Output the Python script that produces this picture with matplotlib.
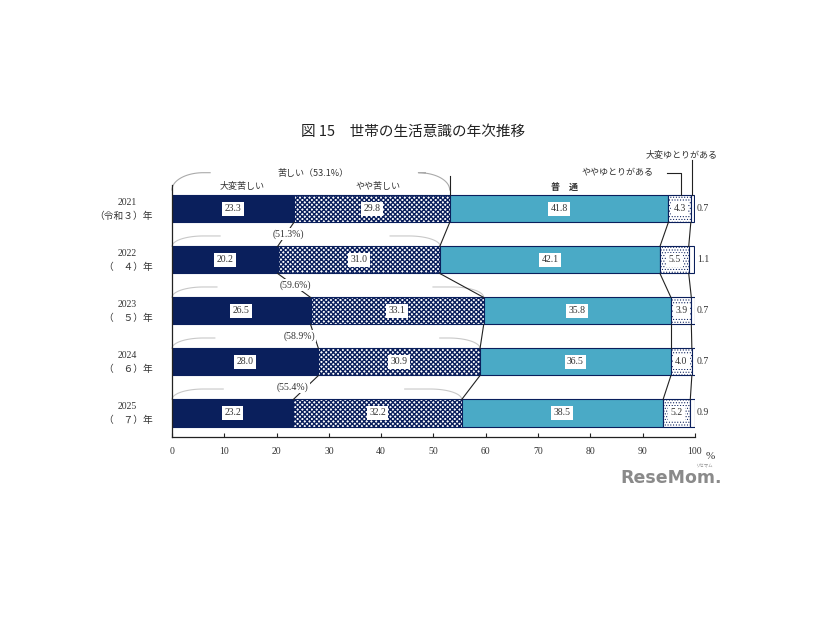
import numpy as np
import matplotlib
matplotlib.use("Agg")
import matplotlib.pyplot as plt

# ---------------- data ----------------
years = ["2021", "2022", "2023", "2024", "2025"]
eras = ["（令和３）年", "（　４）年", "（　５）年", "（　６）年", "（　７）年"]
categories = ["大変苦しい", "やや苦しい", "普　通", "ややゆとりがある", "大変ゆとりがある"]
very_hard = [23.3, 20.2, 26.5, 28.0, 23.2]
somewhat_hard = [29.8, 31.0, 33.1, 30.9, 32.2]
normal = [41.8, 42.1, 35.8, 36.5, 38.5]
somewhat_easy = [4.3, 5.5, 3.9, 4.0, 5.2]
very_easy = [0.7, 1.1, 0.7, 0.7, 0.9]
hard_total = [53.1, 51.3, 59.6, 58.9, 55.4]
xticks = [0, 10, 20, 30, 40, 50, 60, 70, 80, 90, 100]

series = [very_hard, somewhat_hard, normal, somewhat_easy, very_easy]

# ---------------- style ----------------
NAVY = "#0a1f5c"
TEAL = "#4aaac6"
JP = ["Noto Sans CJK JP", "DejaVu Sans"]
NUM = ["Liberation Serif", "Noto Sans CJK JP"]

fig = plt.figure(figsize=(8.26, 6.2), dpi=100)
ax = fig.add_axes([0.2082, 0.2952, 0.6332, 0.4065])

n = len(years)
ypos = np.arange(n)
h = 0.53

faces = [NAVY, "white", TEAL, "white", "white"]
hatches = [None, "xxxxxxx", None, "......", None]
hatch_lw = [1.0, 1.0, 1.0, 0.45, 1.0]
left = np.zeros(n)
cums = []
for vals, fc, ht, hl in zip(series, faces, hatches, hatch_lw):
    vals = np.array(vals)
    with plt.rc_context({"hatch.linewidth": hl}):
        ax.barh(ypos, vals, left=left, height=h, color=fc, edgecolor=NAVY,
                linewidth=0.8, hatch=ht, zorder=2)
    left = left + vals
    cums.append(left.copy())

# value labels
left = np.zeros(n)
for k, vals in enumerate(series):
    vals = np.array(vals)
    for i in range(n):
        if k < 4:
            ax.text(left[i] + vals[i] / 2, ypos[i], f"{vals[i]:.1f}",
                    ha="center", va="center", fontsize=7, family=NUM,
                    color="#333333", zorder=5,
                    bbox=dict(boxstyle="square,pad=0.25", fc="white", ec="none"))
        else:
            ax.text(100.4, ypos[i], f"{vals[i]:.1f}", ha="left", va="center",
                    fontsize=7, family=NUM, color="#333333", zorder=5)
    left = left + vals

# connector lines between bars
for c in cums[:4]:
    for i in range(n - 1):
        ax.plot([c[i], c[i + 1]], [ypos[i] + h / 2, ypos[i + 1] - h / 2],
                color="#222222", lw=0.8, zorder=3)

# brackets above 苦しい portion
def bracket(i, lend, rstart, ytop, col):
    T = hard_total[i]
    ybot = ypos[i] - h / 2 if i > 0 else -0.37
    t = np.linspace(0, np.pi / 2, 30)
    rx = 6.0
    xl = rx - rx * np.cos(t)
    yl = ybot - (ybot - ytop) * np.sin(t)
    ax.plot(np.r_[xl, lend], np.r_[yl, ytop], color=col, lw=0.8, clip_on=False, zorder=1)
    xr = (T - rx) + rx * np.sin(t)
    yr = ytop + (ybot - ytop) * (1 - np.cos(t))
    ax.plot(np.r_[rstart, xr], np.r_[ytop, yr], color=col, lw=0.8, clip_on=False, zorder=1)

bracket(0, 7.3, 48.4, -0.71, "#aaaaaa")
bracket(1, 9.2, 41.7, 0.53, "#c8c8c8")
bracket(2, 8.6, 49.9, 1.53, "#c8c8c8")
bracket(3, 8.2, 51.2, 2.53, "#c8c8c8")
bracket(4, 9.8, 44.5, 3.53, "#c8c8c8")

ax.text(27.0, -0.69, f"苦しい（{hard_total[0]:.1f}%）", ha="center", va="center",
        fontsize=6.5, family=JP, color="#333333")
pct_x = [22.2, 23.5, 24.3, 23.1]
for i in range(1, n):
    ax.text(pct_x[i - 1], ypos[i] - 0.51, f"({hard_total[i]:.1f}%)", ha="center",
            va="center", fontsize=7, family=NUM, color="#333333", zorder=6,
            bbox=dict(boxstyle="square,pad=0.1", fc="white", ec="none"))

# category labels above top bar
ax.text(13.4, -0.43, categories[0], ha="center", va="center", fontsize=6.5, family=JP, color="#333333")
ax.text(39.4, -0.43, categories[1], ha="center", va="center", fontsize=6.5, family=JP, color="#333333")
ax.text(75.1, -0.40, categories[2], ha="center", va="center", fontsize=6.5, family=JP,
        color="#333333", weight="bold")
ax.plot([hard_total[0], hard_total[0]], [-h / 2, -0.65], color="#222222", lw=0.8, clip_on=False)
ax.text(92.0, -0.71, categories[3], ha="right", va="center", fontsize=6.5, family=JP, color="#333333")
ax.plot([94.6, 97.3, 97.3], [-0.71, -0.71, -h / 2], color="#222222", lw=0.8, clip_on=False)
ax.text(97.5, -1.06, categories[4], ha="center", va="center", fontsize=6.5, family=JP, color="#333333")
ax.plot([99.4, 99.4], [-0.95, -h / 2], color="#222222", lw=0.8, clip_on=False)

# year labels
for i in range(n):
    ax.text(-8.6, ypos[i] - 0.125, years[i], ha="center", va="center", fontsize=7,
            family=NUM, color="#333333", clip_on=False)
    ax.text(-3.6, ypos[i] + 0.13, eras[i], ha="right", va="center", fontsize=7,
            family=JP, color="#333333", clip_on=False)

# axes
ax.set_xlim(0, 100)
ax.set_ylim(4.47, -0.47)
ax.set_yticks([])
ax.set_xticks(xticks)
ax.set_xticklabels([str(v) for v in xticks], fontsize=7, family=NUM, color="#333333")
ax.tick_params(axis="x", direction="in", length=3, width=0.8, pad=7, color="#222222")
for s in ["top", "right"]:
    ax.spines[s].set_visible(False)
for s in ["left", "bottom"]:
    ax.spines[s].set_color("#222222")
    ax.spines[s].set_linewidth(0.9)
ax.text(103.0, 4.85, "%", ha="center", va="center", fontsize=8, family=NUM,
        color="#333333", clip_on=False)

# title
fig.text(0.5, 0.787, "図 15　世帯の生活意識の年次推移", ha="center", va="center",
         fontsize=10.5, family=JP, color="#222222")

# watermark
fig.text(0.813, 0.229, "ReseMom.", ha="center", va="center", fontsize=12.5,
         weight="bold", color="#8a8a8a", family="DejaVu Sans")
fig.text(0.852, 0.249, "リセマム", ha="center", va="center", fontsize=3.2,
         color="#8a8a8a", family=JP)

fig.savefig("out.png", dpi=100)
